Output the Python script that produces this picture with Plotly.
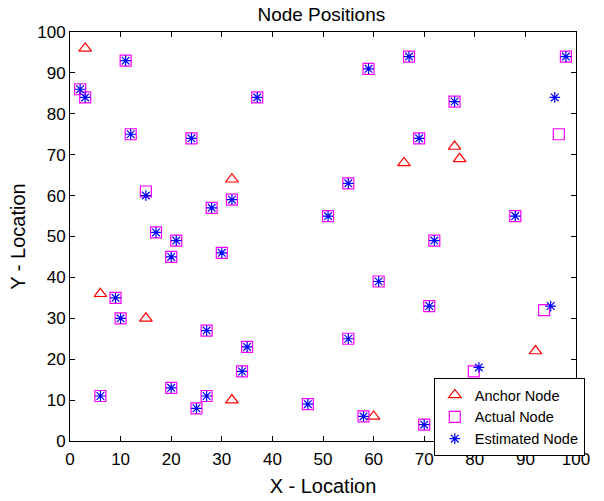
import plotly.graph_objects as go

anchor_x = [3, 32, 6, 15, 32, 60, 66, 76, 77, 92]
anchor_y = [96, 64, 36, 30, 10, 6, 68, 72, 69, 22]

actual_x = [2, 3, 11, 12, 24, 37, 15, 17, 21, 20, 28, 32, 30, 9, 10, 27, 35, 34, 6, 20,
            27, 25, 47, 58, 55, 51, 55, 61, 59, 67, 69, 76, 72, 71, 88, 70, 98, 96.6, 93.7, 79.8]
actual_y = [86, 84, 93, 75, 74, 84, 61, 51, 49, 45, 57, 59, 46, 35, 30, 27, 23, 17, 11, 13,
            11, 8, 9, 6, 25, 55, 63, 39, 91, 94, 74, 83, 49, 33, 55, 4, 94, 75, 32, 17]

est_x = [2, 3, 11, 12, 24, 37, 15, 17, 21, 20, 28, 32, 30, 9, 10, 27, 35, 34, 6, 20,
         27, 25, 47, 58, 55, 51, 55, 61, 59, 67, 69, 76, 72, 71, 88, 70, 98, 95.8, 95, 80.8]
est_y = [86, 84, 93, 75, 74, 84, 60, 51, 49, 45, 57, 59, 46, 35, 30, 27, 23, 17, 11, 13,
         11, 8, 9, 6, 25, 55, 63, 39, 91, 94, 74, 83, 49, 33, 55, 4, 94, 84, 33, 18]

ticks = [0, 10, 20, 30, 40, 50, 60, 70, 80, 90, 100]

FONT = "Liberation Sans, Arial, Helvetica, sans-serif"

fig = go.Figure()
fig.add_trace(go.Scatter(
    x=anchor_x, y=anchor_y, mode="markers", name="Anchor Node",
    marker=dict(symbol="triangle-up-open", size=11, color="#ff0000",
                line=dict(color="#ff0000", width=1.2))))
fig.add_trace(go.Scatter(
    x=actual_x, y=actual_y, mode="markers", name="Actual Node",
    marker=dict(symbol="square-open", size=11, color="#ff00ff",
                line=dict(color="#ff00ff", width=1.2))))
fig.add_trace(go.Scatter(
    x=est_x, y=est_y, mode="markers", name="Estimated Node",
    marker=dict(symbol="asterisk-open", size=9, color="#0000ff",
                line=dict(color="#0000ff", width=1.2))))

axis_common = dict(
    range=[0, 100], tickvals=ticks, ticktext=[str(t) for t in ticks],
    showline=True, linecolor="black", linewidth=1, mirror="ticks",
    ticks="inside", ticklen=5, tickcolor="black", showgrid=False, zeroline=False,
    automargin=False,
    tickfont=dict(family=FONT, size=17, color="black"),
)

fig.update_layout(
    width=604, height=501,
    margin=dict(l=70, r=28, t=32, b=60, autoexpand=False),
    paper_bgcolor="white", plot_bgcolor="white",
    font=dict(family=FONT, color="black"),
    title=dict(text="Node Positions", x=0.532, xanchor="center", y=0.971, yanchor="middle",
               font=dict(family=FONT, size=19, color="black")),
    xaxis=dict(axis_common, ticklabelstandoff=3,
               title=dict(text="X - Location", font=dict(family=FONT, size=20), standoff=10)),
    yaxis=dict(axis_common, title=dict(text="Y - Location", font=dict(family=FONT, size=20), standoff=6)),
    legend=dict(x=0.719, y=0.154, xanchor="left", yanchor="top",
                bgcolor="white", bordercolor="black", borderwidth=1,
                font=dict(family=FONT, size=14.5, color="black"),
                itemwidth=30, tracegroupgap=0),
    showlegend=True,
)

fig.write_html("out.html")
